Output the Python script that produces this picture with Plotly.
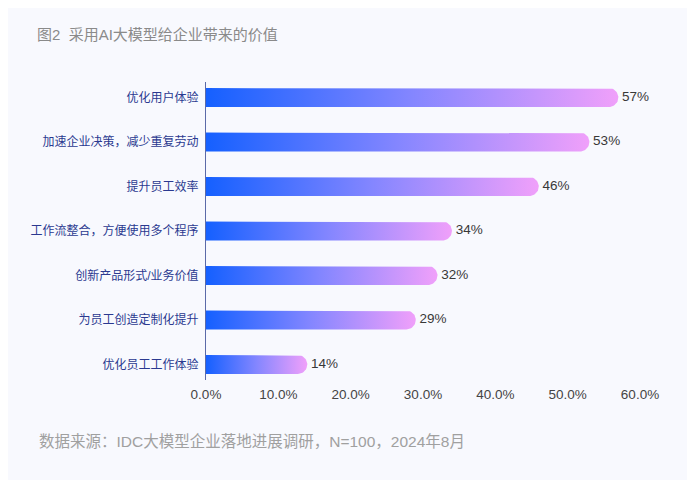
import numpy as np
import plotly.graph_objects as go

# ---------------------------------------------------------
# data
# ---------------------------------------------------------
categories = [
    "优化用户体验",
    "加速企业决策，减少重复劳动",
    "提升员工效率",
    "工作流整合，方便使用多个程序",
    "创新产品形式/业务价值",
    "为员工创造定制化提升",
    "优化员工工作体验",
]
values = [57, 53, 46, 34, 32, 29, 14]
x_ticks = [0, 10, 20, 30, 40, 50, 60]

title_text = "图2  采用AI大模型给企业带来的价值"
source_text = "数据来源：IDC大模型企业落地进展调研，N=100，2024年8月"

# ---------------------------------------------------------
# layout geometry (pixels) - page body adds an 8px offset
# ---------------------------------------------------------
W, H = 687, 472
margin = dict(l=198, r=55, t=74, b=100)
x_range = [0, 60]
y_range = [len(categories) - 0.65, -0.35]

plot_w = W - margin["l"] - margin["r"]
plot_h = H - margin["t"] - margin["b"]
px_per_x = plot_w / (x_range[1] - x_range[0])
px_per_y = plot_h / abs(y_range[0] - y_range[1])

bar_px = 19
half_h = bar_px / 2 / px_per_y
cap_r = bar_px / 2 / px_per_x

gradient = [[0, "#1560ff"], [0.5, "#8486ff"], [1, "#f0a0fa"]]
bg = "#f8f9fe"
font_family = "Liberation Sans, Noto Sans CJK SC, sans-serif"

fig = go.Figure()

# rounded gradient bars
theta = np.linspace(-np.pi / 2, np.pi / 2, 25)
for i, v in enumerate(values):
    cx = v - cap_r
    xs = [0, cx] + list(cx + cap_r * np.cos(theta)) + [cx, 0, 0]
    ys = [i - half_h, i - half_h] + list(i + half_h * np.sin(theta)) + [i + half_h, i + half_h, i - half_h]
    fig.add_trace(
        go.Scatter(
            x=xs,
            y=ys,
            mode="lines",
            line=dict(width=0),
            fill="toself",
            fillgradient=dict(type="horizontal", colorscale=gradient),
            hoverinfo="skip",
            showlegend=False,
        )
    )

# value labels
fig.add_trace(
    go.Scatter(
        x=values,
        y=list(range(len(values))),
        mode="text",
        text=[f" {v}%" for v in values],
        textposition="middle right",
        textfont=dict(size=13.5, color="#383838"),
        cliponaxis=False,
        hoverinfo="skip",
        showlegend=False,
    )
)

fig.update_layout(
    width=W,
    height=H,
    margin=margin,
    paper_bgcolor=bg,
    plot_bgcolor=bg,
    font=dict(family=font_family),
    title=dict(
        text=title_text,
        font=dict(size=15, color="#8a8a8a"),
        xref="container",
        yref="container",
        x=29 / W,
        y=1 - 27 / H,
        xanchor="left",
        yanchor="middle",
    ),
    xaxis=dict(
        range=x_range,
        tickvals=x_ticks,
        ticktext=[f"{t:.1f}%" for t in x_ticks],
        showgrid=False,
        zeroline=False,
        showline=False,
        tickfont=dict(size=13.5, color="#444444"),
        ticks="",
        ticklabelstandoff=4,
    ),
    yaxis=dict(
        range=y_range,
        tickvals=list(range(len(categories))),
        ticktext=categories,
        showgrid=False,
        zeroline=False,
        showline=True,
        linecolor="#5b6aa8",
        linewidth=1,
        ticks="",
        ticklabelstandoff=4,
        tickfont=dict(size=12, color="#2b3990"),
    ),
    annotations=[
        dict(
            text=source_text,
            xref="paper",
            yref="paper",
            x=(29 - margin["l"]) / plot_w,
            y=(plot_h - (433 - margin["t"])) / plot_h,
            xanchor="left",
            yanchor="middle",
            showarrow=False,
            font=dict(size=15.5, color="#a0a0a0"),
        )
    ],
)

fig.write_html("out.html")
